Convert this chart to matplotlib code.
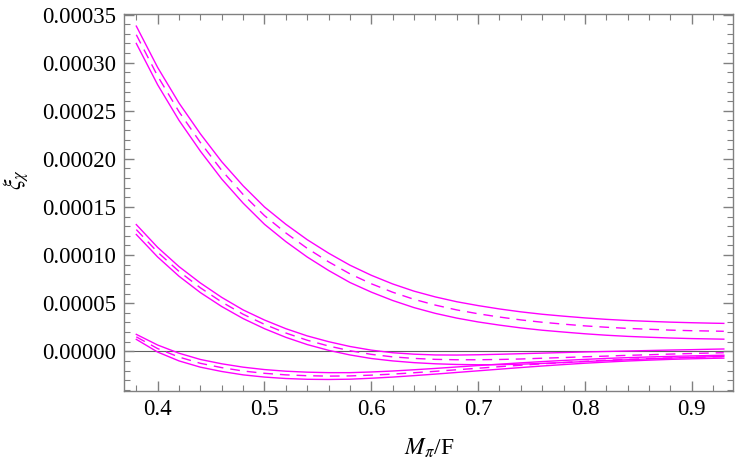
import numpy as np
import matplotlib
matplotlib.use('Agg')
import matplotlib.pyplot as plt
from matplotlib.ticker import MultipleLocator, FormatStrFormatter

plt.rcParams['font.family'] = ['Liberation Serif', 'DejaVu Serif']
plt.rcParams['mathtext.fontset'] = 'stix'

# values (units of 1e-6)
x = [0.38, 0.40, 0.42, 0.44, 0.46, 0.48, 0.50, 0.52, 0.54, 0.56, 0.58, 0.60,
     0.62, 0.64, 0.66, 0.68, 0.70, 0.72, 0.74, 0.76, 0.78, 0.80, 0.82, 0.84,
     0.86, 0.88, 0.90, 0.92, 0.93]

g1_up = [338, 295, 258, 226, 197, 172, 150, 132, 116, 102, 89.5, 79,
         70, 62.5, 56.5, 51.5, 47.5, 44, 41, 38.5, 36.5, 34.7, 33.2, 32,
         31.1, 30.3, 29.7, 29.2, 29]
g1_mid = [329, 286, 249, 217, 188, 163, 141, 123, 107, 93, 80.5, 70.2,
          61.4, 54, 48, 43, 39, 35.6, 32.6, 30.2, 28.2, 26.4, 25, 23.8,
          22.9, 22, 21.4, 21, 20.8]
g1_lo = [320, 277, 240, 208, 179, 154, 132, 114, 98, 84, 71.5, 61.5,
         52.8, 45.4, 39.4, 34.5, 30.5, 27.2, 24.3, 21.9, 20, 18.2, 16.7, 15.5,
         14.6, 13.8, 13.2, 12.8, 12.6]

g2_up = [131.7, 108, 88, 71, 56, 43, 32.5, 23.5, 16, 10, 5, 1.2,
         -1.5, -3, -3.8, -3.9, -3.6, -3.1, -2.5, -1.9, -1.3, -0.7, -0.2, 0.3,
         0.8, 1.3, 1.7, 2.2, 2.4]
g2_mid = [126.5, 103, 83, 66, 51.2, 38.5, 28, 19, 11.5, 5.5, 0.6, -3.2,
          -5.8, -7.4, -8.4, -8.8, -8.8, -8.5, -8, -7.2, -6.5, -5.7, -5, -4.2,
          -3.6, -2.9, -2.3, -1.7, -1.5]
g2_lo = [121.4, 98, 78, 61, 46.5, 34, 23.5, 14.5, 7, 1, -3.8, -7.5,
         -10, -11.8, -13, -13.7, -14, -13.9, -13.4, -12.6, -11.7, -10.7, -9.7, -8.8,
         -7.9, -7.1, -6.3, -5.6, -5.3]

g3_up = [17.6, 6.5, -2, -8.5, -13, -16.5, -19, -20.7, -21.7, -22.2, -22.2, -21.5,
         -20.5, -19.2, -17.8, -16.3, -14.8, -13.4, -12, -10.7, -9.5, -8.4, -7.4, -6.6,
         -5.9, -5.3, -4.8, -4.3, -4.1]
g3_mid = [15, 2.8, -6, -12.5, -17, -20.5, -22.9, -24.5, -25.4, -25.8, -25.6, -24.8,
          -23.7, -22.3, -20.8, -19.2, -17.6, -16, -14.5, -13, -11.7, -10.4, -9.3, -8.4,
          -7.6, -6.9, -6.3, -5.8, -5.6]
g3_lo = [12.4, -0.8, -10, -16.5, -21, -24.5, -26.8, -28.3, -29.1, -29.3, -29, -28,
         -26.8, -25.3, -23.7, -22, -20.3, -18.6, -16.9, -15.3, -13.8, -12.4, -11.2, -10.1,
         -9.2, -8.4, -7.8, -7.3, -7.1]

fig = plt.figure(figsize=(7.36, 4.61), dpi=100)
ax = fig.add_axes([0.1685, 0.152, 0.828, 0.8185])

col = '#ff00ff'
ax.axhline(0, color='#606060', lw=0.8, zorder=1)
for up, mid, lo in [(g1_up, g1_mid, g1_lo), (g2_up, g2_mid, g2_lo), (g3_up, g3_mid, g3_lo)]:
    ax.plot(x, np.array(up) * 1e-6, c=col, lw=1.0)
    ax.plot(x, np.array(lo) * 1e-6, c=col, lw=1.0)
    ax.plot(x, np.array(mid) * 1e-6, c=col, lw=1.0, dashes=(7, 5))

ax.set_xlim(0.3685, 0.939)
ax.set_ylim(-0.0000412, 0.000351)

ax.xaxis.set_major_locator(MultipleLocator(0.1))
ax.xaxis.set_minor_locator(MultipleLocator(0.02))
ax.yaxis.set_major_locator(MultipleLocator(0.00005))
ax.yaxis.set_minor_locator(MultipleLocator(0.00001))
ax.yaxis.set_major_formatter(FormatStrFormatter('%.5f'))
ax.xaxis.set_major_formatter(FormatStrFormatter('%.1f'))

for s in ax.spines.values():
    s.set_color('#808080')
    s.set_linewidth(1.0)
ax.tick_params(which='both', direction='in', top=True, right=True, color='#808080',
               labelsize=16.5, labelcolor='black')
ax.tick_params(which='major', length=7.5, width=1.0, pad=6)
ax.tick_params(which='minor', length=4, width=0.8)

ax.set_xlabel(r'$M_{\pi}$/F', fontsize=17)
ax.set_ylabel(r'$\xi_{\chi}$', fontsize=17)
ax.xaxis.set_label_coords(0.5, -0.12)
ax.yaxis.set_label_coords(-0.152, 0.56)

plt.savefig('out.png', dpi=100)
